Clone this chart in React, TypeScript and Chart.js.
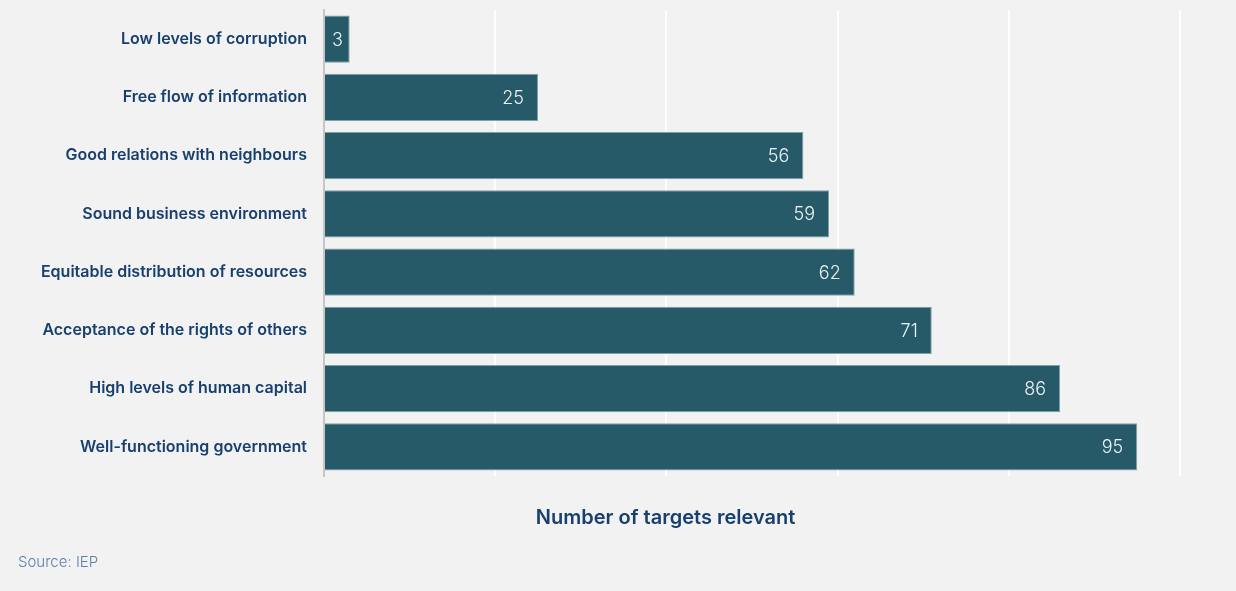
import React, { useEffect, useRef } from "react";
import { Chart, registerables } from "chart.js";

Chart.register(...registerables);

const categories = [
  "Low levels of corruption",
  "Free flow of information",
  "Good relations with neighbours",
  "Sound business environment",
  "Equitable distribution of resources",
  "Acceptance of the rights of others",
  "High levels of human capital",
  "Well-functioning government",
];
const values = [3, 25, 56, 59, 62, 71, 86, 95];
const xTicks = [0, 20, 40, 60, 80, 100];
const axisTitle = "Number of targets relevant";
const sourceText = "Source: IEP";

const BG = "#f2f2f2";
const BAR = "#265a69";
const NAVY = "#173f6f";

const overlayPlugin = {
  id: "overlay",
  beforeDraw(chart: any) {
    const { ctx } = chart;
    ctx.save();
    ctx.fillStyle = BG;
    ctx.fillRect(0, 0, chart.width, chart.height);
    ctx.restore();
  },
  afterDatasetsDraw(chart: any) {
    const { ctx, chartArea } = chart;
    const meta = chart.getDatasetMeta(0);
    ctx.save();
    ctx.font = "300 18px Inter, 'Open Sans', sans-serif";
    ctx.fillStyle = "#eef3f5";
    ctx.textBaseline = "middle";
    meta.data.forEach((bar: any, i: number) => {
      const txt = String(values[i]);
      const w = ctx.measureText(txt).width;
      const barW = bar.x - bar.base;
      if (w + 28 > barW) {
        ctx.textAlign = "center";
        ctx.fillText(txt, (bar.x + bar.base) / 2, bar.y + 1);
      } else {
        ctx.textAlign = "right";
        ctx.fillText(txt, bar.x - 14, bar.y + 1);
      }
    });
    // axis title
    ctx.font = "600 20px Inter, 'Open Sans', sans-serif";
    ctx.fillStyle = NAVY;
    ctx.textAlign = "center";
    ctx.fillText(axisTitle, chartArea.left + (chartArea.right - chartArea.left) * 0.399, chartArea.bottom + 42);
    // source
    ctx.font = "300 15px Inter, 'Open Sans', sans-serif";
    ctx.fillStyle = "#5b7fae";
    ctx.textAlign = "left";
    ctx.fillText(sourceText, 10, chartArea.bottom + 86);
    ctx.restore();
  },
};

export default function App() {
  const ref = useRef<HTMLCanvasElement | null>(null);
  useEffect(() => {
    document.body.style.background = BG;
    if (!ref.current) return;
    const chart = new Chart(ref.current, {
      type: "bar",
      data: {
        labels: categories,
        datasets: [
          {
            data: values,
            backgroundColor: BAR,
            borderColor: "#7fa1ab",
            borderWidth: 1,
            barPercentage: 0.9,
            categoryPercentage: 0.9,
          },
        ],
      },
      options: {
        indexAxis: "y",
        animation: false,
        responsive: true,
        maintainAspectRatio: false,
        layout: { padding: { top: 2, right: 48, left: 0, bottom: 0 } },
        plugins: { legend: { display: false }, tooltip: { enabled: false } },
        scales: {
          x: {
            min: 0,
            max: 100,
            afterBuildTicks: (s: any) => {
              s.ticks = xTicks.map((v) => ({ value: v }));
            },
            afterFit: (s: any) => {
              s.height = 107;
              s.paddingLeft = 0;
              s.paddingRight = 0;
            },
            ticks: { display: false },
            grid: {
              color: (c: any) => (c.tick && c.tick.value === 0 ? "rgba(0,0,0,0)" : "#ffffff"),
              lineWidth: 2,
              drawTicks: false,
            },
            border: { display: false },
          },
          y: {
            afterFit: (s: any) => {
              s.width = 316;
              s.paddingTop = 0;
              s.paddingBottom = 0;
            },
            grid: { display: false, drawTicks: false },
            border: { display: true, color: "#c6c6c6", width: 2 },
            ticks: {
              padding: 17,
              color: NAVY,
              font: { family: "Inter, 'Open Sans', sans-serif", size: 16, weight: "600" as any },
            },
          },
        },
      },
      plugins: [overlayPlugin],
    });
    return () => chart.destroy();
  }, []);
  return (
    <div style={{ width: 1220, height: 575, background: BG }}>
      <canvas ref={ref} />
    </div>
  );
}
